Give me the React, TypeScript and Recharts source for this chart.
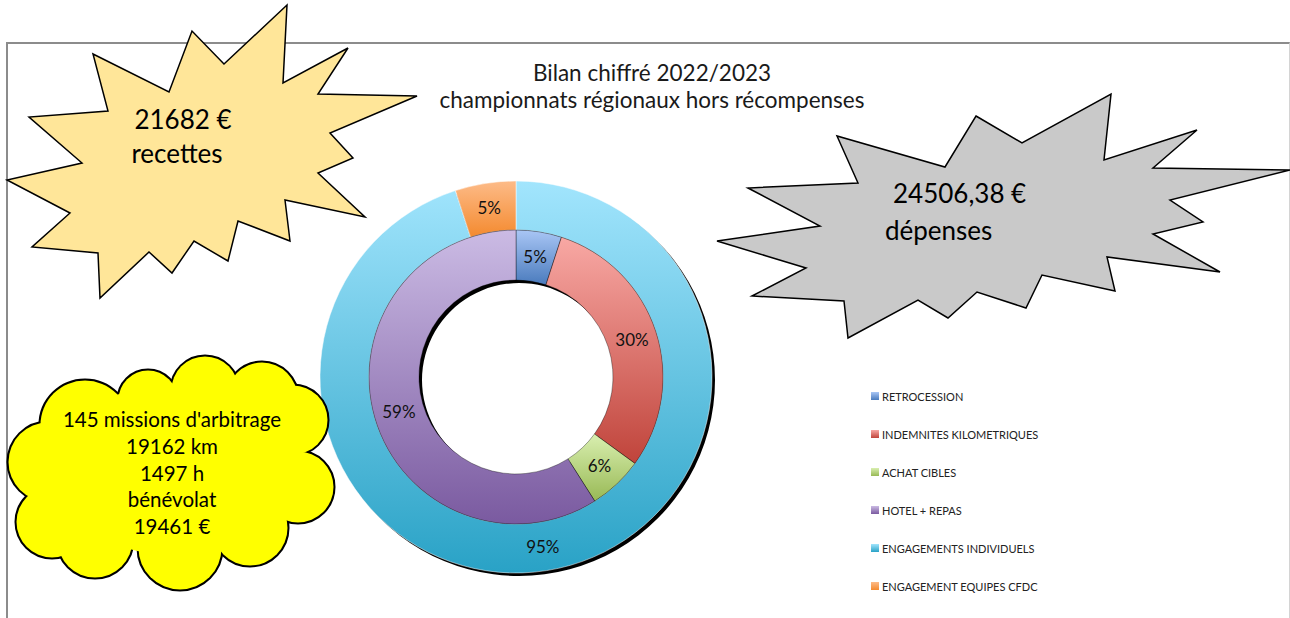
import { Cell, Legend, Pie, PieChart } from "recharts";

// inner ring: dépenses
const innerNames = ["RETROCESSION", "INDEMNITES KILOMETRIQUES", "ACHAT CIBLES", "HOTEL + REPAS"];
const innerValues = [5, 30, 6, 59];
// outer ring: recettes
const outerNames = ["ENGAGEMENTS INDIVIDUELS", "ENGAGEMENT EQUIPES CFDC"];
const outerValues = [95, 5];

const titleLines = ["Bilan chiffré 2022/2023", "championnats régionaux hors récompenses"];
const recettesLines = ["21682 €", "recettes"];
const depensesLines = ["24506,38 €", "dépenses"];
const benevolatLines = ["145 missions d'arbitrage", "19162 km", "1497 h", "bénévolat", "19461 €"];

const innerGrad: [string, string][] = [
  ["#a9c6f5", "#4a7bbd"],
  ["#f8a8a4", "#c0443b"],
  ["#d9efb0", "#98b955"],
  ["#cbbbe4", "#7a5aa0"],
];
const outerGrad: [string, string][] = [
  ["#a2e5fd", "#29a2c6"],
  ["#fdbb88", "#f48a2f"],
];

const innerData = innerNames.map((name, i) => ({ name, value: innerValues[i] }));
const outerData = outerNames.map((name, i) => ({ name, value: outerValues[i] }));
const shadowData = [{ name: "ombre", value: outerValues.reduce((a, b) => a + b, 0) }];

const FONT = "Lato, 'Open Sans', sans-serif";
const CX = 516;
const CY = 377;
const RAD = Math.PI / 180;

const gid = (ring: string, i: number) => `grad-${ring}-${i}`;

function pctLabel(props: any) {
  const { cx, cy, midAngle, innerRadius, outerRadius, value } = props;
  const r = (innerRadius + outerRadius) / 2;
  const x = cx + r * Math.cos(-midAngle * RAD);
  const y = cy + r * Math.sin(-midAngle * RAD);
  return (
    <text x={x} y={y} textAnchor="middle" dominantBaseline="central" fontSize={17} fill="#111" fontFamily={FONT}>
      {`${value}%`}
    </text>
  );
}

function LegendList() {
  const items = [
    ...innerNames.map((name, i) => ({ name, id: gid("in", i) })),
    ...outerNames.map((name, i) => ({ name, id: gid("out", i) })),
  ];
  return (
    <div style={{ fontFamily: FONT, fontSize: 11, color: "#222" }}>
      {items.map((it) => (
        <div key={it.name} style={{ display: "flex", alignItems: "center", height: 38 }}>
          <svg width={8} height={8} style={{ display: "block" }}>
            <rect x={0} y={0} width={8} height={8} fill={`url(#${it.id})`} />
          </svg>
          <span style={{ marginLeft: 3, whiteSpace: "nowrap" }}>{it.name}</span>
        </div>
      ))}
    </div>
  );
}

const yellowStar = [
  [287, 5], [283, 83], [348, 48], [318, 94], [417, 96], [330, 133], [353, 158], [318, 173],
  [365, 217], [285, 200], [290, 241], [238, 221], [228, 261], [194, 241], [172, 273], [149, 252],
  [100, 298], [98, 253], [32, 247], [70, 213], [7, 180], [82, 163], [29, 117], [108, 111],
  [93, 54], [169, 92], [192, 31], [224, 64],
];
const grayStar = [
  [976, 116], [1022, 143], [1111, 94], [1104, 160], [1197, 130], [1153, 168], [1290, 170],
  [1170, 200], [1203, 222], [1153, 234], [1220, 272], [1107, 257], [1115, 291], [1042, 275],
  [1026, 308], [977, 292], [948, 318], [918, 300], [848, 338], [844, 301], [752, 296],
  [806, 268], [717, 241], [820, 226], [748, 188], [858, 183], [837, 136], [945, 167],
];
const cloudBumps = [
  [48, 462, 40], [52, 522, 36], [95, 540, 38], [180, 548, 42], [250, 528, 38], [298, 487, 36],
  [293, 420, 35], [262, 398, 36], [205, 390, 34], [148, 400, 30], [85, 425, 45],
];

function Decorations() {
  return (
    <svg
      width={1290}
      height={618}
      style={{ position: "absolute", left: 0, top: 0, pointerEvents: "none" }}
      fontFamily={FONT}
    >
      {titleLines.map((t, i) => (
        <text key={t} x={652} y={81 + i * 27} textAnchor="middle" fontSize={22.5} fill="#1a1a1a">
          {t}
        </text>
      ))}

      <polygon points={yellowStar.map((p) => p.join(",")).join(" ")} fill="#ffe699" stroke="#000" strokeWidth={1.5} strokeLinejoin="miter" />
      <text x={183} y={129} textAnchor="middle" fontSize={26} fill="#000">{recettesLines[0]}</text>
      <text x={177} y={163} textAnchor="middle" fontSize={26} fill="#000">{recettesLines[1]}</text>

      <polygon points={grayStar.map((p) => p.join(",")).join(" ")} fill="#c9c9c9" stroke="#000" strokeWidth={1.5} />
      <text x={893} y={203} fontSize={26} fill="#000">{depensesLines[0]}</text>
      <text x={885} y={240} fontSize={26} fill="#000">{depensesLines[1]}</text>

      <g>
        {cloudBumps.map(([x, y, r], i) => (
          <circle key={`s${i}`} cx={x} cy={y} r={r} fill="#ffff00" stroke="#000" strokeWidth={3} />
        ))}
        {cloudBumps.map(([x, y, r], i) => (
          <circle key={`f${i}`} cx={x} cy={y} r={r - 0.5} fill="#ffff00" />
        ))}
        <ellipse cx={175} cy={470} rx={125} ry={85} fill="#ffff00" />
      </g>
      {benevolatLines.map((t, i) => (
        <text key={t} x={172} y={427 + i * 26.8} textAnchor="middle" fontSize={20.5} fill="#000">
          {t}
        </text>
      ))}
    </svg>
  );
}

export default function App() {
  return (
    <div style={{ position: "absolute", left: 0, top: 0, width: 1290, height: 618, overflow: "hidden", background: "#fff" }}>
      <div
        style={{
          position: "absolute",
          left: 6,
          top: 42,
          width: 1281,
          height: 700,
          borderTop: "2px solid #8c8c8c",
          borderLeft: "2px solid #8c8c8c",
          borderRight: "1px solid #d4d4d4",
        }}
      />
      <div style={{ position: "absolute", left: 0, top: 0 }}>
        <PieChart width={1290} height={618} margin={{ top: 0, right: 0, bottom: 0, left: 0 }}>
          <defs>
            {innerGrad.map(([a, b], i) => (
              <linearGradient key={gid("in", i)} id={gid("in", i)} x1="0" y1="0" x2="0" y2="1">
                <stop offset="0%" stopColor={a} />
                <stop offset="100%" stopColor={b} />
              </linearGradient>
            ))}
            {outerGrad.map(([a, b], i) => (
              <linearGradient key={gid("out", i)} id={gid("out", i)} x1="0" y1="0" x2="0" y2="1">
                <stop offset="0%" stopColor={a} />
                <stop offset="100%" stopColor={b} />
              </linearGradient>
            ))}
          </defs>
          <Pie
            data={shadowData}
            dataKey="value"
            cx={CX + 3}
            cy={CY + 3}
            innerRadius={97}
            outerRadius={196}
            startAngle={90}
            endAngle={-270}
            fill="#000"
            stroke="none"
            legendType="none"
            isAnimationActive={false}
          />
          <Pie
            data={outerData}
            dataKey="value"
            cx={CX}
            cy={CY}
            innerRadius={147}
            outerRadius={196}
            startAngle={90}
            endAngle={-270}
            stroke="#ffffff"
            strokeWidth={0.5}
            label={pctLabel}
            labelLine={false}
            isAnimationActive={false}
          >
            {outerData.map((d, i) => (
              <Cell key={d.name} fill={`url(#${gid("out", i)})`} />
            ))}
          </Pie>
          <Pie
            data={innerData}
            dataKey="value"
            cx={CX}
            cy={CY}
            innerRadius={97}
            outerRadius={147}
            startAngle={90}
            endAngle={-270}
            stroke="rgba(0,0,0,0.45)"
            strokeWidth={0.8}
            label={pctLabel}
            labelLine={false}
            isAnimationActive={false}
          >
            {innerData.map((d, i) => (
              <Cell key={d.name} fill={`url(#${gid("in", i)})`} />
            ))}
          </Pie>
          <Legend
            layout="vertical"
            align="center"
            verticalAlign="middle"
            wrapperStyle={{ left: 871, top: 377, width: 260 }}
            content={() => <LegendList />}
          />
        </PieChart>
      </div>
      <Decorations />
    </div>
  );
}
